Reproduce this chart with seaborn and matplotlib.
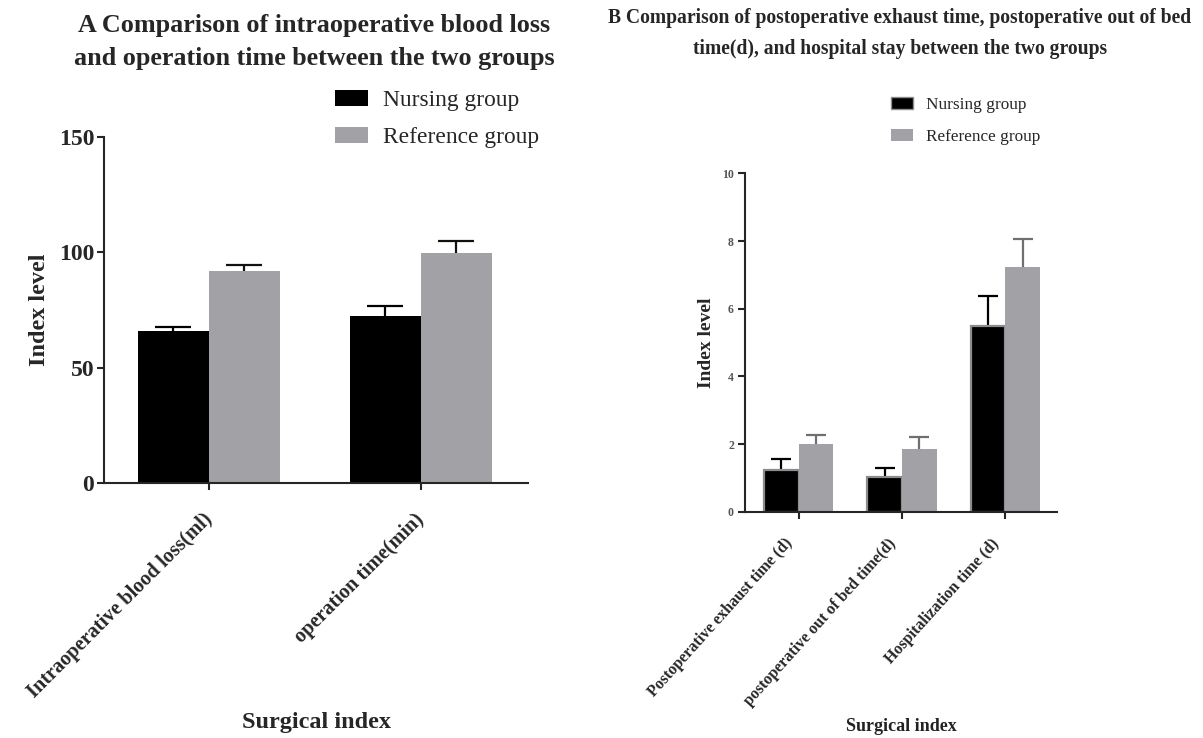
import matplotlib
matplotlib.use("Agg")
import matplotlib.pyplot as plt
import matplotlib.transforms as mtransforms
from matplotlib.patches import Patch
import numpy as np
import pandas as pd
import seaborn as sns

# ---- data -------------------------------------------------------------
groups = ["Nursing group", "Reference group"]

a_categories = ["Intraoperative blood loss(ml)", "operation time(min)"]
a_nursing_mean = [65.8, 72.6]
a_nursing_sd = [1.8, 4.2]
a_reference_mean = [91.8, 99.6]
a_reference_sd = [2.7, 5.2]
a_yticks = [0, 50, 100, 150]

b_categories = ["Postoperative exhaust time (d)",
                "postoperative out of bed time(d)",
                "Hospitalization time (d)"]
b_nursing_mean = [1.22, 1.03, 5.50]
b_nursing_sd = [0.35, 0.26, 0.88]
b_reference_mean = [1.99, 1.85, 7.24]
b_reference_sd = [0.29, 0.36, 0.81]
b_yticks = [0, 2, 4, 6, 8, 10]

title_a = "A Comparison of intraoperative blood loss\nand operation time between the two groups"
title_b = ("B Comparison of postoperative exhaust time, postoperative out of bed\n"
           "time(d), and hospital stay between the two groups")

# ---- style ------------------------------------------------------------
BLACK = "#000000"
GREY = "#a2a1a6"
sns.set_style("ticks")
plt.rcParams["font.family"] = ["Liberation Serif", "DejaVu Serif"]
plt.rcParams["axes.linewidth"] = 1.5

fig = plt.figure(figsize=(12.03, 7.38), dpi=100)
ax_a = fig.add_axes([0.0865, 0.3455, 0.3524, 0.4689])
ax_b = fig.add_axes([0.6193, 0.3066, 0.2593, 0.4584])


def long_table(categories, nursing, reference):
    return pd.DataFrame({
        "category": list(categories) * 2,
        "group": [groups[0]] * len(categories) + [groups[1]] * len(categories),
        "value": list(nursing) + list(reference),
    })


def draw_panel(ax, categories, n_mean, n_sd, r_mean, r_sd, capsizes, err_colors):
    df = long_table(categories, n_mean, r_mean)
    sns.barplot(data=df, x="category", y="value", hue="group",
                order=categories, hue_order=groups,
                palette=[BLACK, GREY], saturation=1, width=0.67,
                errorbar=None, linewidth=0, legend=False, ax=ax)
    # SD whiskers drawn behind the bars so only the upper half shows
    for cont, sd, mean, cs, col in zip(ax.containers, [n_sd, r_sd], [n_mean, r_mean],
                                       capsizes, err_colors):
        xs = [p.get_x() + p.get_width() / 2 for p in cont]
        ax.errorbar(xs, mean, yerr=sd, fmt="none", ecolor=col,
                    elinewidth=1.6, capsize=cs, capthick=1.6, zorder=0.5)
    sns.despine(ax=ax)


# ---- panel A ------------------------------------------------------------
draw_panel(ax_a, a_categories, a_nursing_mean, a_nursing_sd,
           a_reference_mean, a_reference_sd, [13, 13], [BLACK, "#111111"])
ax_a.set_ylim(0, 150)
ax_a.set_xlim(-0.495, 1.505)
ax_a.set_yticks(a_yticks)
ax_a.tick_params(axis="both", direction="out", length=5, width=1.5, pad=2)
for t in ax_a.get_yticklabels():
    t.set_fontsize(17)
    t.set_fontweight("bold")
ax_a.set_xticks(range(len(a_categories)))
ax_a.set_xticklabels(a_categories, rotation=45, ha="right", va="center",
                     rotation_mode="anchor", fontsize=14.6, fontweight="bold")
ax_a.tick_params(axis="x", pad=19)
ax_a.set_ylabel("Index level", fontsize=17.4, fontweight="bold")
ax_a.yaxis.set_label_coords(-0.153, 0.5)
ax_a.yaxis.label.set_verticalalignment("center")
ax_a.set_xlabel("Surgical index", fontsize=17.5, fontweight="bold")
ax_a.xaxis.set_label_coords(0.5, -0.691)
ax_a.xaxis.label.set_verticalalignment("center")
ax_a.legend(handles=[Patch(facecolor=BLACK, edgecolor="none"),
                     Patch(facecolor=GREY, edgecolor="none")],
            labels=groups, loc="upper left", bbox_to_anchor=(0.2785, 0.8787),
            bbox_transform=fig.transFigure, frameon=False, fontsize=16.9,
            handlelength=1.4, handleheight=0.72, handletextpad=0.63,
            labelspacing=0.66, borderpad=0, borderaxespad=0)
fig.text(0.261, 0.943, title_a, ha="center", va="center", fontsize=18.8,
         fontweight="bold", linespacing=1.57)

# ---- panel B ------------------------------------------------------------
draw_panel(ax_b, b_categories, b_nursing_mean, b_nursing_sd,
           b_reference_mean, b_reference_sd, [7, 7], [BLACK, "#6f6f6f"])
for p in ax_b.containers[0]:
    p.set_edgecolor("#8c8c90")
    p.set_linewidth(1.6)
ax_b.set_ylim(0, 10)
ax_b.set_xlim(-0.52, 2.50)
ax_b.set_yticks(b_yticks)
ax_b.tick_params(axis="both", direction="out", length=5, width=1.5, pad=3)
for t in ax_b.get_yticklabels():
    t.set_fontsize(8.5)
    t.set_fontweight("bold")
    t.set_color("#555555")
ax_b.set_xticks(range(len(b_categories)))
ax_b.set_xticklabels(b_categories, rotation=48, ha="right", va="center",
                     rotation_mode="anchor", fontsize=11.5, fontweight="bold")
ax_b.tick_params(axis="x", pad=16)
# nudge the slanted category labels slightly to the left
shift = mtransforms.ScaledTranslation(-9 / 100, 0, fig.dpi_scale_trans)
for lab in ax_b.get_xticklabels():
    lab.set_transform(lab.get_transform() + shift)
ax_b.set_ylabel("Index level", fontsize=14, fontweight="bold")
ax_b.yaxis.set_label_coords(-0.125, 0.5)
ax_b.yaxis.label.set_verticalalignment("center")
ax_b.set_xlabel("Surgical index", fontsize=13, fontweight="bold", color="#222222")
ax_b.xaxis.set_label_coords(0.5, -0.636)
ax_b.xaxis.label.set_verticalalignment("center")
ax_b.legend(handles=[Patch(facecolor=BLACK, edgecolor="#8c8c90"),
                     Patch(facecolor=GREY, edgecolor="none")],
            labels=groups, loc="upper left", bbox_to_anchor=(0.7407, 0.8688),
            bbox_transform=fig.transFigure, frameon=False, fontsize=12.4,
            handlelength=1.3, handleheight=0.7, handletextpad=0.7,
            labelspacing=0.91, borderpad=0, borderaxespad=0)
fig.text(0.748, 0.955, title_b, ha="center", va="center", fontsize=14.1,
         fontweight="bold", linespacing=1.72)

fig.savefig("out.png", dpi=100, facecolor="white")
